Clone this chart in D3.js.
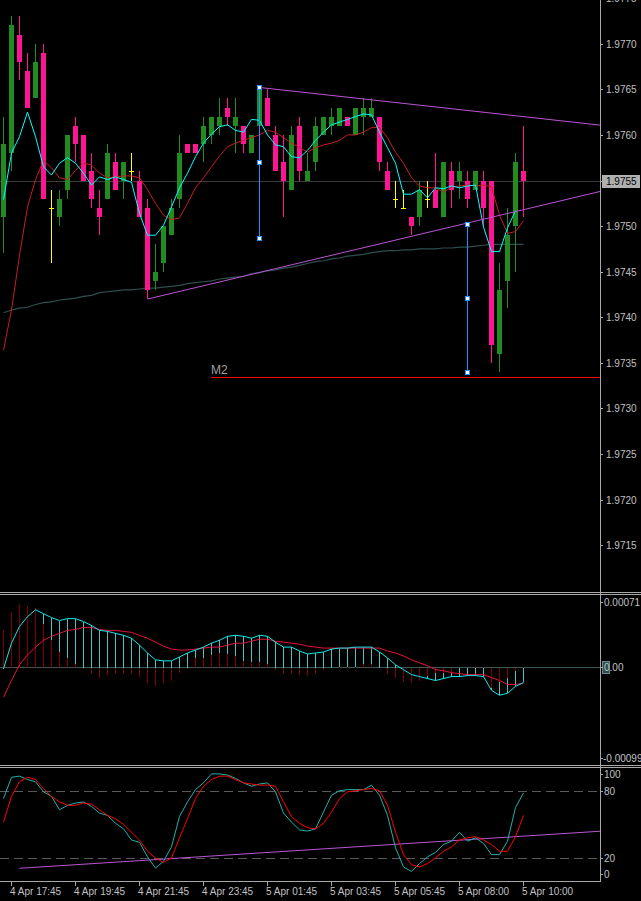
<!DOCTYPE html>
<html>
<head>
<meta charset="utf-8">
<script src="https://cdn.jsdelivr.net/npm/d3@7"></script>
<style>
  body { margin: 0; background: #000; }
  svg { display: block; }
  text { font-family: "Liberation Sans", Arial, sans-serif; font-size: 10px; fill: #c0c0c0; }
</style>
</head>
<body>
<div id="chart"></div>
<script>
// GBPUSD M15 bars, bar 0 = 4 Apr 17:30
const opens  = [1.9751,1.9758,1.9771,1.9767,1.9764,1.9769,1.9752,1.9751,1.9754,1.9761,
                1.9760,1.9756,1.9752,1.9753,1.9757,1.9755,1.9756,1.9755,1.9752,1.9744,
                1.9746,1.9749,1.9753,1.9759,1.9759,1.9759,1.9760,1.9761,1.9763,1.9761,
                1.9761,1.9758,1.9761,1.9764,1.9760,1.9757,1.9754,1.9761,1.9755,1.9757,
                1.9760,1.9761,1.9761,1.9762,1.9760,1.9762,1.9762,1.9762,1.9756,1.9753,
                1.9752,1.9751,1.9751,1.9753,1.9754,1.9751,1.9756,1.9755,1.9755,1.9754,
                1.9755,1.9755,1.9736,1.9744,1.9750,1.9756];
const highs  = [1.9762,1.9773,1.9773,1.9769,1.9770,1.9770,1.9754,1.9754,1.9760,1.9762,
                1.9760,1.9758,1.9754,1.9759,1.9758,1.9757,1.9758,1.9756,1.9753,1.9748,
                1.9750,1.9753,1.9760,1.9759,1.9759,1.9762,1.9762,1.9764,1.9764,1.9764,
                1.9761,1.9760,1.9765,1.9765,1.9761,1.9760,1.9761,1.9762,1.9758,1.9762,
                1.9762,1.9763,1.9763,1.9762,1.9763,1.9764,1.9764,1.9762,1.9757,1.9755,
                1.9754,1.9751,1.9755,1.9755,1.9758,1.9757,1.9757,1.9757,1.9756,1.9756,
                1.9756,1.9755,1.9746,1.9752,1.9758,1.9761];
const lows   = [1.9747,1.9756,1.9766,1.9763,1.9764,1.9753,1.9746,1.9750,1.9753,1.9757,
                1.9755,1.9752,1.9749,1.9753,1.9754,1.9753,1.9755,1.9751,1.9742,1.9743,
                1.9745,1.9749,1.9752,1.9758,1.9758,1.9757,1.9759,1.9760,1.9761,1.9758,
                1.9758,1.9758,1.9760,1.9761,1.9756,1.9751,1.9754,1.9755,1.9755,1.9756,
                1.9760,1.9760,1.9761,1.9761,1.9760,1.9760,1.9762,1.9756,1.9754,1.9752,
                1.9752,1.9749,1.9750,1.9752,1.9752,1.9751,1.9752,1.9753,1.9752,1.9754,
                1.9750,1.9735,1.9734,1.9741,1.9745,1.9751];
const closes = [1.9759,1.9772,1.9768,1.9763,1.9768,1.9753,1.9752,1.9753,1.9760,1.9759,
                1.9755,1.9753,1.9751,1.9758,1.9754,1.9757,1.9756,1.9751,1.9743,1.9745,
                1.9750,1.9752,1.9758,1.9758,1.9758,1.9761,1.9762,1.9762,1.9762,1.9762,
                1.9759,1.9760,1.9765,1.9761,1.9756,1.9755,1.9760,1.9756,1.9756,1.9761,
                1.9762,1.9762,1.9763,1.9761,1.9763,1.9763,1.9763,1.9757,1.9754,1.9753,
                1.9752,1.9750,1.9754,1.9753,1.9752,1.9757,1.9754,1.9756,1.9753,1.9756,
                1.9752,1.9737,1.9743,1.9749,1.9757,1.9755];

// moving averages on the price pane
const maFast = [1.97529,1.97580,1.97598,1.97625,1.97598,1.97565,1.97556,1.97569,1.97575,1.97569,
                1.97558,1.97545,1.97554,1.97551,1.97554,1.97551,1.97548,1.97514,1.97490,1.97490,
                1.97501,1.97521,1.97542,1.97558,1.97576,1.97591,1.97601,1.97609,1.97611,1.97605,
                1.97603,1.97617,1.97616,1.97600,1.97589,1.97587,1.97576,1.97575,1.97583,1.97594,
                1.97603,1.97611,1.97614,1.97617,1.97620,1.97623,1.97622,1.97603,1.97586,1.97569,
                1.97535,1.97535,1.97540,1.97531,1.97542,1.97541,1.97544,1.97542,1.97544,1.97545,
                1.97499,1.97472,1.97472,1.97498,1.97517];
const maSlow = [1.97364,1.97408,1.97468,1.97521,1.97551,1.97572,1.97564,1.97553,1.97551,1.97561,
                1.97569,1.97567,1.97558,1.97553,1.97554,1.97555,1.97555,1.97553,1.97540,1.97525,
                1.97512,1.97507,1.97509,1.97525,1.97542,1.97553,1.97565,1.97577,1.97587,1.97591,
                1.97594,1.97597,1.97600,1.97605,1.97603,1.97597,1.97591,1.97586,1.97581,1.97586,
                1.97589,1.97591,1.97594,1.97600,1.97600,1.97603,1.97608,1.97608,1.97597,1.97581,
                1.97569,1.97553,1.97544,1.97542,1.97542,1.97537,1.97543,1.97544,1.97545,1.97544,
                1.97545,1.97543,1.97512,1.97492,1.97494,1.97506];
const maLong = [1.97405,1.97408,1.97410,1.97411,1.97414,1.97416,1.97417,1.97419,1.97420,1.97421,
                1.97423,1.97424,1.97427,1.97428,1.97429,1.97430,1.97430,1.97431,1.97432,1.97432,
                1.97433,1.97434,1.97435,1.97437,1.97438,1.97439,1.97440,1.97442,1.97443,1.97444,
                1.97445,1.97448,1.97449,1.97451,1.97452,1.97454,1.97455,1.97457,1.97459,1.97461,
                1.97462,1.97464,1.97465,1.97467,1.97468,1.97469,1.97471,1.97472,1.97473,1.97473,
                1.97474,1.97474,1.97475,1.97475,1.97475,1.97476,1.97476,1.97477,1.97477,1.97478,
                1.97479,1.97480,1.97480,1.97480,1.97480,1.97480];

// MACD pane
const macdMain = [-0.00002,0.00024,0.00041,0.00051,0.00058,0.00054,0.00050,0.00047,0.00049,0.00049,
                  0.00046,0.00042,0.00037,0.00036,0.00034,0.00032,0.00029,0.00022,0.00014,0.00007,
                  0.00006,0.00006,0.00010,0.00014,0.00017,0.00020,0.00024,0.00027,0.00031,0.00032,
                  0.00031,0.00029,0.00032,0.00031,0.00025,0.00020,0.00020,0.00016,0.00013,0.00014,
                  0.00015,0.00018,0.00019,0.00019,0.00020,0.00020,0.00020,0.00015,0.00009,0.00002,
                  -0.00003,-0.00008,-0.00010,-0.00012,-0.00014,-0.00012,-0.00010,-0.00010,-0.00009,-0.00009,
                  -0.00010,-0.00024,-0.00029,-0.00027,-0.00020,-0.00016];
const macdSignal = [-0.00031,-0.00014,0.00002,0.00012,0.00020,0.00027,0.00031,0.00034,0.00037,0.00038,
                    0.00040,0.00040,0.00038,0.00037,0.00037,0.00036,0.00035,0.00032,0.00029,0.00025,
                    0.00021,0.00018,0.00017,0.00017,0.00018,0.00019,0.00020,0.00020,0.00022,0.00024,
                    0.00024,0.00026,0.00028,0.00028,0.00026,0.00025,0.00024,0.00023,0.00021,0.00020,
                    0.00019,0.00019,0.00019,0.00019,0.00019,0.00019,0.00019,0.00019,0.00016,0.00014,
                    0.00011,0.00007,0.00004,0.00001,-0.00003,-0.00004,-0.00006,-0.00007,-0.00008,-0.00008,
                    -0.00008,-0.00011,-0.00014,-0.00018,-0.00018,-0.00017];
const macdOsma = [0.00037,0.00056,0.00064,0.00062,0.00060,0.00044,0.00027,0.00015,0.00009,0.00003,
                  -0.00002,-0.00007,-0.00011,-0.00008,-0.00007,-0.00007,-0.00007,-0.00010,-0.00017,-0.00020,
                  -0.00018,-0.00014,-0.00006,-0.00002,0.00009,0.00009,0.00012,0.00014,0.00013,0.00011,
                  0.00006,0.00005,0.00005,0.00003,-0.00003,-0.00007,-0.00007,-0.00008,-0.00009,-0.00007,
                  -0.00003,-0.00001,0.00000,0.00000,0.00000,0.00003,0.00003,-0.00001,-0.00007,-0.00011,
                  -0.00016,-0.00017,-0.00015,-0.00009,-0.00006,-0.00006,-0.00006,-0.00001,-0.00001,0.00001,
                  0.00000,-0.00022,-0.00016,-0.00011,-0.00004,0.00000];

// Stochastic pane
const stochK = [73,92,93,90,88,79,75,63,67,69,
                70,66,60,58,51,46,36,34,21,11,
                17,30,57,70,81,87,95,95,94,91,
                87,84,86,87,79,60,52,45,44,46,
                61,76,80,81,81,81,85,76,58,29,
                12,8,15,21,25,32,35,43,35,38,
                33,23,23,35,65,78];
const stochD = [52,75,88,92,90,82,75,70,67,67,
                69,68,63,58,55,50,43,36,26,20,
                16,20,38,55,73,84,90,93,93,90,
                87,86,85,85,84,70,57,51,47,46,
                51,61,73,79,80,81,82,80,67,43,
                23,14,12,15,20,26,30,36,38,39,
                36,32,26,26,39,58];

// axis labels
const priceTicks = [1.9775,1.9770,1.9765,1.9760,1.9755,1.9750,1.9745,1.9740,1.9735,1.9730,1.9725,1.9720,1.9715];
const macdTicks = [0.00071, 0.0, -0.00099];
const macdTickLabels = ['0.00071', '0.00', '-0.00099'];
const stochTicks = [100, 80, 20, 0];
const stochLevels = [80, 20];
const timeTickBars = [1, 9, 17, 25, 33, 41, 49, 57, 65];
const timeLabels = ['4 Apr 17:45','4 Apr 19:45','4 Apr 21:45','4 Apr 23:45','5 Apr 01:45',
                    '5 Apr 03:45','5 Apr 05:45','5 Apr 08:00','5 Apr 10:00'];

// drawn objects: [bar, value] anchors
const upperTrend = [[32, 1.97652], [65, 1.97620]];
const lowerTrend = [[18, 1.97420], [65, 1.97518]];
const stochTrend = [[2, 10.8], [65, 39.5]];
const levelM2 = {bar: 26, price: 1.97335, label: 'M2'};
const markers = [
  {bar: 32, prices: [1.97652, 1.97570, 1.97487]},
  {bar: 58, prices: [1.97502, 1.97421, 1.97340]}
];
const lastPrice = 1.9755;

const W = 641, H = 901, plotRight = 600;

const svg = d3.select('#chart').append('svg')
  .attr('width', W).attr('height', H)
  .style('background-color', '#000');

const x = d3.scaleLinear().domain([0, 65]).range([3.5, 523.5]);
const yMain = d3.scaleLinear().domain([1.9715, 1.9770]).range([545.3, 43.7]);
const yMacd = d3.scaleLinear().domain([-0.00099, 0.00071]).range([764, 597]);
const yStoch = d3.scaleLinear().domain([0, 100]).range([880.4, 768.3]);

// clip areas for the three panes
const defs = svg.append('defs');
[['clipMain', 0, 0, plotRight, 592], ['clipMacd', 0, 595, plotRight, 170], ['clipStoch', 0, 768, plotRight, 113]]
  .forEach(c => {
    defs.append('clipPath').attr('id', c[0]).append('rect')
      .attr('x', c[1]).attr('y', c[2]).attr('width', c[3]).attr('height', c[4]);
  });

const main = svg.append('g').attr('clip-path', 'url(#clipMain)');
const macdG = svg.append('g').attr('clip-path', 'url(#clipMacd)');
const stochG = svg.append('g').attr('clip-path', 'url(#clipStoch)');

// extend an anchored trend line to the right edge
function ray(anchors, ys) {
  const [a, b] = anchors;
  const x1 = x(a[0]), y1 = ys(a[1]), x2 = x(b[0]), y2 = ys(b[1]);
  const slope = (y2 - y1) / (x2 - x1);
  return {x1: x1, y1: y1, x2: plotRight, y2: y1 + slope * (plotRight - x1)};
}

// ---- price pane ----
main.append('line')
  .attr('x1', 0).attr('x2', plotRight)
  .attr('y1', Math.round(yMain(lastPrice)) + 0.5).attr('y2', Math.round(yMain(lastPrice)) + 0.5)
  .style('stroke', '#3c3c3c').style('stroke-width', 1);

const lineFn = ys => d3.line().x((d, i) => x(i)).y(d => ys(d));

main.append('path').datum(maLong)
  .attr('d', lineFn(yMain))
  .style('fill', 'none').style('stroke', '#2f4f4f').style('stroke-width', 1.2);

const bars = opens.map((o, i) => ({i: i, o: o, h: highs[i], l: lows[i], c: closes[i]}));
const candleColor = d => d.c > d.o ? '#228b22' : (d.c < d.o ? '#ff1493' : '#ffff00');

main.selectAll('line.wick').data(bars).enter()
  .append('line').attr('class', 'wick')
  .attr('x1', d => x(d.i)).attr('x2', d => x(d.i))
  .attr('y1', d => yMain(d.h)).attr('y2', d => yMain(d.l))
  .style('stroke', candleColor).style('stroke-width', 1)
  .style('shape-rendering', 'crispEdges');

main.selectAll('rect.body').data(bars.filter(d => d.c !== d.o)).enter()
  .append('rect').attr('class', 'body')
  .attr('x', d => x(d.i) - 2.5)
  .attr('width', 5)
  .attr('y', d => yMain(Math.max(d.o, d.c)))
  .attr('height', d => Math.abs(yMain(d.o) - yMain(d.c)))
  .style('fill', candleColor)
  .style('shape-rendering', 'crispEdges');

main.selectAll('line.doji').data(bars.filter(d => d.c === d.o)).enter()
  .append('line').attr('class', 'doji')
  .attr('x1', d => x(d.i) - 2.5).attr('x2', d => x(d.i) + 2.5)
  .attr('y1', d => Math.round(yMain(d.o)) + 0.5).attr('y2', d => Math.round(yMain(d.o)) + 0.5)
  .style('stroke', '#ffff00').style('stroke-width', 1)
  .style('shape-rendering', 'crispEdges');

main.append('path').datum(maSlow)
  .attr('d', lineFn(yMain))
  .style('fill', 'none').style('stroke', '#c81e1e').style('stroke-width', 1);

main.append('path').datum(maFast)
  .attr('d', lineFn(yMain))
  .style('fill', 'none').style('stroke', '#00ffff').style('stroke-width', 1);

// trend lines
[upperTrend, lowerTrend].forEach(t => {
  const r = ray(t, yMain);
  main.append('line')
    .attr('x1', r.x1).attr('y1', r.y1).attr('x2', r.x2).attr('y2', r.y2)
    .style('stroke', '#ba55d3').style('stroke-width', 1);
});

// M2 horizontal level
const m2y = Math.round(yMain(levelM2.price)) + 0.5;
main.append('line')
  .attr('x1', x(levelM2.bar) - 0.5).attr('x2', plotRight)
  .attr('y1', m2y).attr('y2', m2y)
  .style('stroke', '#ff0000').style('stroke-width', 1)
  .style('shape-rendering', 'crispEdges');
main.append('text')
  .attr('x', x(levelM2.bar) - 0.5).attr('y', m2y - 4)
  .style('font-size', '12px').style('fill', '#a0a0a0')
  .text(levelM2.label);

// vertical markers with handles
markers.forEach(m => {
  main.append('line')
    .attr('x1', x(m.bar)).attr('x2', x(m.bar))
    .attr('y1', yMain(d3.max(m.prices))).attr('y2', yMain(d3.min(m.prices)))
    .style('stroke', '#1e90ff').style('stroke-width', 1)
    .style('shape-rendering', 'crispEdges');
  main.selectAll(null).data(m.prices).enter()
    .append('rect')
    .attr('x', x(m.bar) - 2).attr('y', d => Math.round(yMain(d)) - 2)
    .attr('width', 4).attr('height', 4)
    .style('fill', '#ffffff').style('stroke', '#1e90ff').style('stroke-width', 1)
    .style('shape-rendering', 'crispEdges');
});

// ---- MACD pane ----
const zeroY = Math.round(yMacd(0)) + 0.5;
macdG.append('line')
  .attr('x1', 0).attr('x2', plotRight).attr('y1', zeroY).attr('y2', zeroY)
  .style('stroke', '#3a5a5a').style('stroke-width', 1);

macdG.selectAll('line.hist').data(macdMain).enter()
  .append('line').attr('class', 'hist')
  .attr('x1', (d, i) => x(i)).attr('x2', (d, i) => x(i))
  .attr('y1', zeroY).attr('y2', d => yMacd(d))
  .style('stroke', '#48c4c4').style('stroke-width', 1)
  .style('shape-rendering', 'crispEdges');

macdG.selectAll('line.osma').data(macdOsma).enter()
  .append('line').attr('class', 'osma')
  .attr('x1', (d, i) => x(i)).attr('x2', (d, i) => x(i))
  .attr('y1', zeroY).attr('y2', d => yMacd(d))
  .style('stroke', '#800000').style('stroke-width', 1)
  .style('shape-rendering', 'crispEdges');

macdG.append('path').datum(macdSignal)
  .attr('d', lineFn(yMacd))
  .style('fill', 'none').style('stroke', '#e8123c').style('stroke-width', 1);

macdG.append('path').datum(macdMain)
  .attr('d', lineFn(yMacd))
  .style('fill', 'none').style('stroke', '#10e8e8').style('stroke-width', 1);

// ---- Stochastic pane ----
stochLevels.forEach(l => {
  stochG.append('line')
    .attr('x1', 0).attr('x2', plotRight)
    .attr('y1', Math.round(yStoch(l)) + 0.5).attr('y2', Math.round(yStoch(l)) + 0.5)
    .style('stroke', '#5a5a5a').style('stroke-width', 1)
    .style('stroke-dasharray', '9,5')
    .style('shape-rendering', 'crispEdges');
});

const st = ray(stochTrend, yStoch);
stochG.append('line')
  .attr('x1', st.x1).attr('y1', st.y1).attr('x2', st.x2).attr('y2', st.y2)
  .style('stroke', '#ba55d3').style('stroke-width', 1);

stochG.append('path').datum(stochK)
  .attr('d', lineFn(yStoch))
  .style('fill', 'none').style('stroke', '#20b2aa').style('stroke-width', 1);

stochG.append('path').datum(stochD)
  .attr('d', lineFn(yStoch))
  .style('fill', 'none').style('stroke', '#ff0000').style('stroke-width', 1);

// ---- frame ----
const frame = svg.append('g').style('shape-rendering', 'crispEdges');
[592.5, 594.5, 765.5, 767.5].forEach(yy => {
  frame.append('line').attr('x1', 0).attr('x2', W).attr('y1', yy).attr('y2', yy)
    .style('stroke', '#a8a8a8');
});
frame.append('line').attr('x1', 0).attr('x2', plotRight + 1).attr('y1', 881.5).attr('y2', 881.5)
  .style('stroke', '#a8a8a8');
frame.append('line').attr('x1', plotRight + 0.5).attr('x2', plotRight + 0.5).attr('y1', 0).attr('y2', 882)
  .style('stroke', '#a8a8a8');

// price axis
const axisG = svg.append('g');
priceTicks.forEach(p => {
  const yy = Math.round(yMain(p));
  axisG.append('line').attr('x1', plotRight).attr('x2', plotRight + 3)
    .attr('y1', yy + 0.5).attr('y2', yy + 0.5).style('stroke', '#a8a8a8')
    .style('shape-rendering', 'crispEdges');
  axisG.append('text').attr('x', 606).attr('y', yy + 4).text(p.toFixed(4));
});

// current price tag
const lpY = Math.round(yMain(lastPrice));
axisG.append('rect')
  .attr('x', 602).attr('y', lpY - 6).attr('width', 38).attr('height', 13)
  .style('fill', '#b0b0b0').style('shape-rendering', 'crispEdges');
axisG.append('text').attr('x', 606).attr('y', lpY + 4)
  .style('fill', '#000').text(lastPrice.toFixed(4));

// MACD axis
macdTicks.forEach((v, k) => {
  const yy = Math.max(602, Math.min(758, Math.round(yMacd(v))));
  if (v === 0) {
    axisG.append('rect').attr('x', 602).attr('y', yy - 6).attr('width', 7).attr('height', 12)
      .style('fill', '#2f4f4f').style('stroke', '#6a8a8a').style('shape-rendering', 'crispEdges');
  }
  axisG.append('line').attr('x1', plotRight).attr('x2', plotRight + 3)
    .attr('y1', yy + 0.5).attr('y2', yy + 0.5).style('stroke', '#a8a8a8')
    .style('shape-rendering', 'crispEdges');
  axisG.append('text').attr('x', v < 0 ? 603 : 604).attr('y', yy + 4).text(macdTickLabels[k]);
});

// stochastic axis
stochTicks.forEach(v => {
  const yy = Math.max(774, Math.min(874, Math.round(yStoch(v))));
  axisG.append('line').attr('x1', plotRight).attr('x2', plotRight + 3)
    .attr('y1', yy + 0.5).attr('y2', yy + 0.5).style('stroke', '#a8a8a8')
    .style('shape-rendering', 'crispEdges');
  axisG.append('text').attr('x', 604).attr('y', yy + 4).text(v);
});

// time axis
timeTickBars.forEach((b, k) => {
  axisG.append('line').attr('x1', x(b)).attr('x2', x(b)).attr('y1', 882).attr('y2', 886)
    .style('stroke', '#a8a8a8').style('shape-rendering', 'crispEdges');
  axisG.append('text').attr('x', x(b) - 1.5).attr('y', 895).text(timeLabels[k]);
});
</script>
</body>
</html>
